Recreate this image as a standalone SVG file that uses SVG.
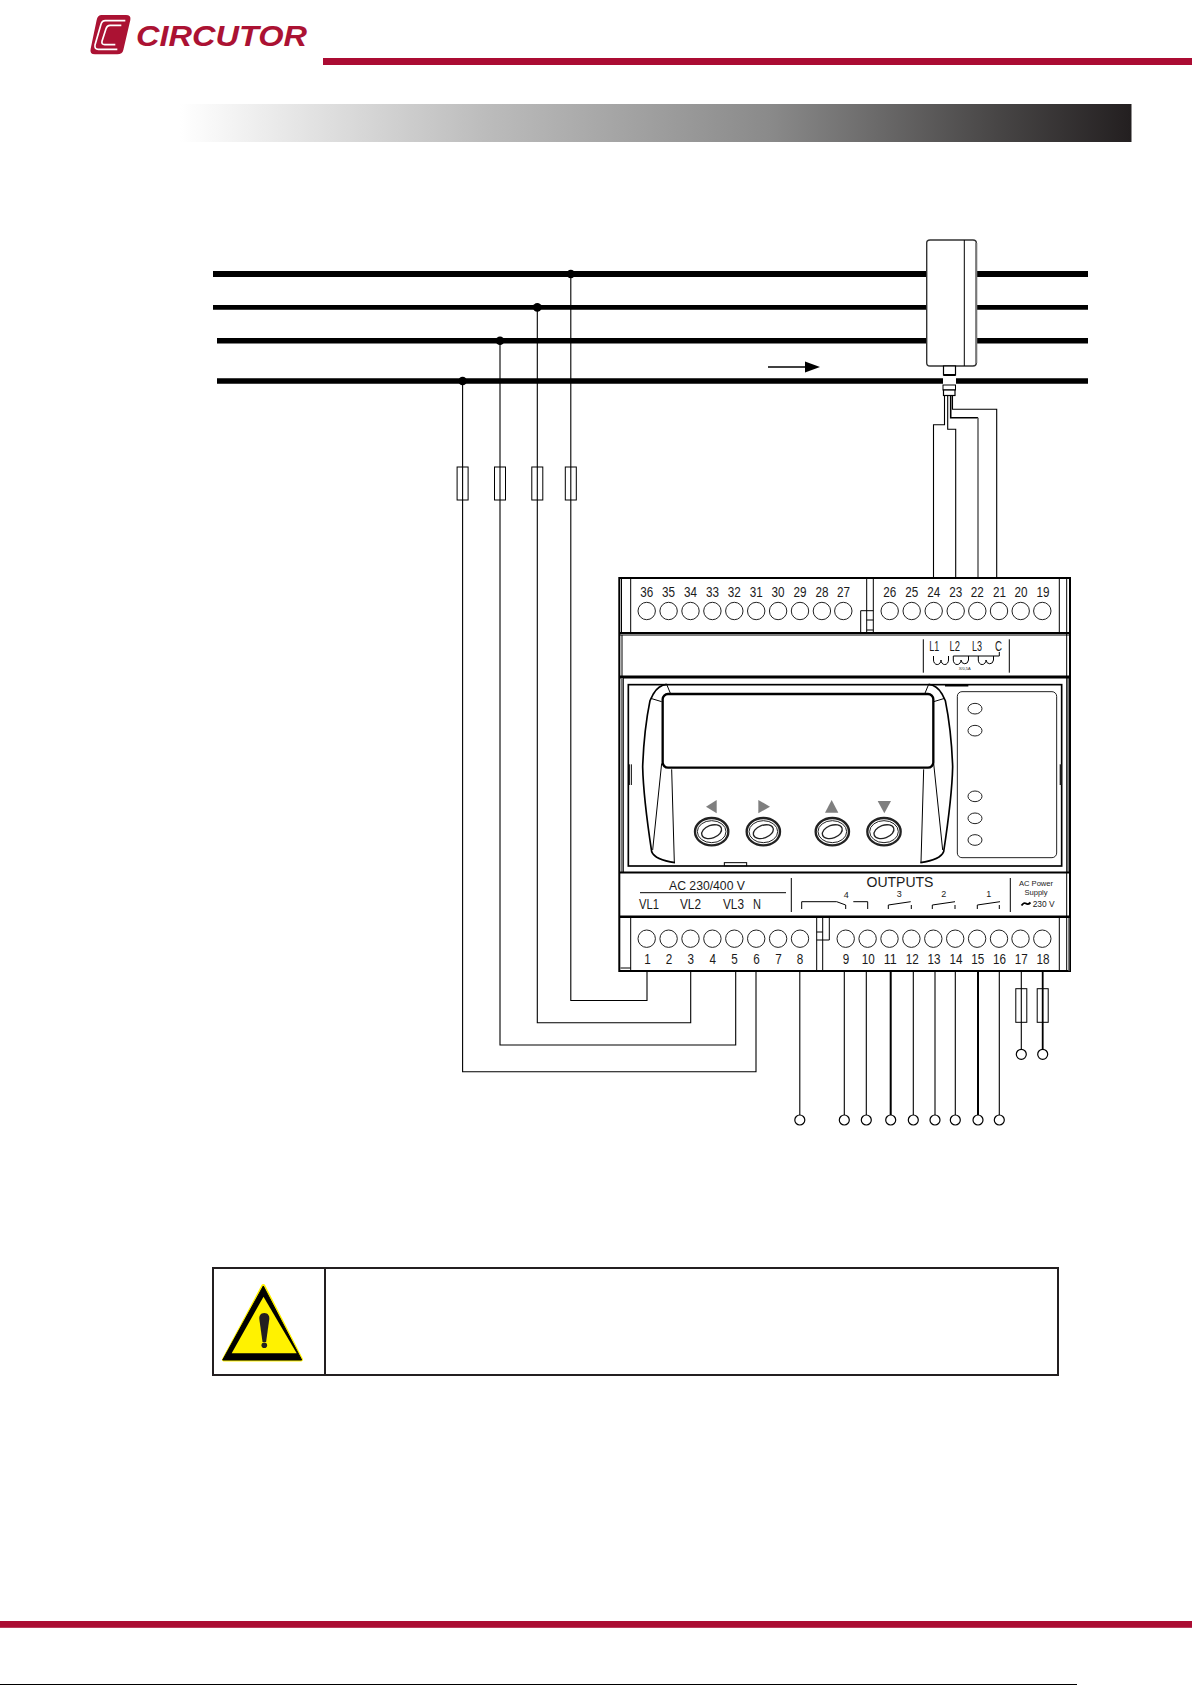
<svg xmlns="http://www.w3.org/2000/svg" width="1192" height="1685" viewBox="0 0 1192 1685">
<style>
text{font-family:"Liberation Sans",Arial,sans-serif;fill:#1a1a1a}
.t{font-size:15px;text-anchor:middle}
.l{fill:none;stroke:#000;stroke-width:1}
.l2{fill:none;stroke:#000;stroke-width:2}
.w{fill:none;stroke:#000;stroke-width:1.1}
.c{fill:#fff;stroke:#222;stroke-width:1}
.bus{stroke:#000;fill:none}
.end{fill:#fff;stroke:#000;stroke-width:1.2}
.fuse{fill:none;stroke:#000;stroke-width:1}
.gr{fill:#7f7f7f}
.s{fill:none;stroke:#000;stroke-width:3}
</style>
<defs>
<linearGradient id="g" x1="0" x2="1" y1="0" y2="0">
<stop offset="0" stop-color="#fff"/>
<stop offset=".32" stop-color="#bcbcbc"/>
<stop offset=".62" stop-color="#8a8a8a"/>
<stop offset=".85" stop-color="#4a4848"/>
<stop offset="1" stop-color="#231f20"/>
</linearGradient>
<g id="btn">
<ellipse cx="0" cy="0" rx="50" ry="41" fill="#fff" stroke="#222" stroke-width="7"/>
<ellipse cx="0" cy="0" rx="43" ry="33" fill="#fff" stroke="#222" stroke-width="3"/>
<ellipse cx="0" cy="0" rx="31" ry="19" fill="#fff" stroke="#222" stroke-width="4" transform="rotate(-20)"/>
</g>
</defs>

<g id="header">
<rect x="323" y="58" width="869" height="7" fill="#ab0c33"/>
<rect x="180" y="104" width="951.5" height="38" fill="url(#g)"/>
</g>
<g id="logo">
<g transform="translate(60 0) scale(.3333)">
<path d="M125 45H198Q214 45 211 60L190 150Q187 163 172 163H105Q88 163 92 146L110 60Q113 45 125 45Z" fill="#ab1233"/>
<path d="M196 62H136Q126 62 123 73L105 135Q103 148 115 148H172" fill="none" stroke="#fff" stroke-width="5"/>
<path d="M184 76H150Q141 76 138 86L126 124Q124 134 134 134H166" fill="none" stroke="#fff" stroke-width="5"/>
</g>
<text x="136" y="45.7" font-size="30" font-weight="700" font-style="italic" textLength="171" lengthAdjust="spacingAndGlyphs" style="fill:#ab1233">CIRCUTOR</text>
</g>

<g id="connectors">
<path class="bus" stroke-width="6" d="M213 274H927M976 274H1088"/>
<path class="bus" stroke-width="4.7" d="M213 307.4H927M976 307.4H1088"/>
<path class="bus" stroke-width="5.5" d="M217 340.7H927M976 340.7H1088"/>
<path class="bus" stroke-width="5.5" d="M217 381H943M956 381H1088"/>
<g fill="#000"><circle cx="570.8" cy="274" r="4.3"/><circle cx="537.3" cy="307.4" r="4.3"/><circle cx="500" cy="340.7" r="4.3"/><circle cx="462.6" cy="381" r="4.3"/></g>
<path class="w" d="M570.8 274V1000.5H647V971"/>
<path class="w" d="M537.3 307.4V1022.7H690.7V971" stroke-width="1.4"/>
<path class="w" d="M500 340.7V1045H735.7V971"/>
<path class="w" d="M462.6 381V1071.8H756V971"/>
<path class="w" d="M944.5 395V424.7H933.5V578"/>
<path class="w" d="M947.7 395V429.3H955.7V578"/>
<path d="M950.7 395V417.7H978" fill="none" stroke="#000" stroke-width="1.6"/>
<path d="M978 417.7V578" fill="none" stroke="#666" stroke-width="1.6"/>
<path class="w" d="M952.5 395V409.3H996.7V578"/>
<path class="w" d="M799.8 971V1115M844.3 971V1115M866.3 971V1115M913.3 971V1115M935 971V1115M955.3 971V1115M999.3 971V1115"/>
<path d="M890.7 971V1115M978 971V1115" fill="none" stroke="#000" stroke-width="2"/>
<path class="w" d="M1021.3 971V1049"/>
<path d="M1042.7 971V1049" fill="none" stroke="#000" stroke-width="1.8"/>
<g class="end"><circle cx="799.8" cy="1120" r="5"/><circle cx="844.3" cy="1120" r="5"/><circle cx="866.3" cy="1120" r="5"/><circle cx="890.7" cy="1120" r="5"/><circle cx="913.3" cy="1120" r="5"/><circle cx="935" cy="1120" r="5"/><circle cx="955.3" cy="1120" r="5"/><circle cx="978" cy="1120" r="5"/><circle cx="999.3" cy="1120" r="5"/><circle cx="1021.3" cy="1054.3" r="5"/><circle cx="1042.7" cy="1054.3" r="5"/></g>
<g class="fuse"><rect x="457.1" y="467" width="11" height="33"/><rect x="494.5" y="467" width="11" height="33"/><rect x="531.8" y="467" width="11" height="33"/><rect x="565.3" y="467" width="11" height="33"/><rect x="1015.8" y="988.7" width="11" height="33.6"/><rect x="1037.2" y="988.7" width="11" height="33.6"/></g>
<path d="M768 367H808" stroke="#000" stroke-width="1.4"/>
<path d="M820 367L805 361.5V372.5Z" fill="#000"/>
</g>

<g id="sensor">
<path d="M930 240H973Q976.3 240 976.3 243V363Q976.3 366 973 366H930Q926.7 366 926.7 363V243Q926.7 240 930 240Z" fill="#fff" stroke="#333" stroke-width="1.4"/>
<path class="l" d="M964.3 240V366"/>
<path d="M976.3 243V363" stroke="#777" stroke-width="2" fill="none"/>
<rect x="943.5" y="366" width="12" height="9" fill="#fff" stroke="#000" stroke-width="1.2"/>
<path d="M943.5 375H955.5" stroke="#000" stroke-width="2"/>
<rect x="943" y="385" width="12.5" height="5" fill="#fff" stroke="#000" stroke-width="1"/>
<rect x="943.5" y="390" width="11.5" height="5.5" fill="#fff" stroke="#000" stroke-width="1.2"/>
</g>

<g id="meter">
<rect x="619.3" y="578" width="450.7" height="393" fill="#fff" stroke="#000" stroke-width="2"/>
<path class="l" d="M621.5 578V633M630.7 578V633M1059.3 578V633M1066.7 578V971M866.7 578V632M873.3 578V632M860.7 632V610.7H873.3M866.7 620H873.3M866.7 630H873.3"/>
<path class="l2" d="M619.3 633H1070"/>
<path d="M619.3 635H1070" class="l"/>
<path d="M619.3 677H1070" stroke="#000" stroke-width="3" fill="none"/>
<path class="l" d="M622 635V677M623.3 678V872M1068 678V872"/>
<path d="M622 678V872" stroke="#777" stroke-width="2" fill="none"/>
<path d="M1069 916V971" stroke="#555" stroke-width="1.5" fill="none"/>
<path d="M619.3 872.5H1070" stroke="#000" stroke-width="2" fill="none"/>
<path d="M619.3 916.7H1070" stroke="#000" stroke-width="2.4" fill="none"/>
<path class="l" d="M630.7 917V971M816.7 917V971M822.7 917V971M829.3 918V940H816.7M816.7 932H822.7M1059.3 917V971M620.5 968H630.7"/>

<g id="terminals-top">
<g class="c"><circle cx="646.7" cy="611" r="8.7"/><circle cx="668.6" cy="611" r="8.7"/><circle cx="690.5" cy="611" r="8.7"/><circle cx="712.4" cy="611" r="8.7"/><circle cx="734.3" cy="611" r="8.7"/><circle cx="756.2" cy="611" r="8.7"/><circle cx="778.1" cy="611" r="8.7"/><circle cx="800" cy="611" r="8.7"/><circle cx="821.9" cy="611" r="8.7"/><circle cx="843.3" cy="611" r="8.7"/><circle cx="889.7" cy="611" r="8.7"/><circle cx="911.7" cy="611" r="8.7"/><circle cx="933.7" cy="611" r="8.7"/><circle cx="955.7" cy="611" r="8.7"/><circle cx="977.3" cy="611" r="8.7"/><circle cx="999" cy="611" r="8.7"/><circle cx="1020.7" cy="611" r="8.7"/><circle cx="1042.3" cy="611" r="8.7"/></g>
<text class="t" x="646.7" y="597.3" textLength="13" lengthAdjust="spacingAndGlyphs">36</text><text class="t" x="668.6" y="597.3" textLength="13" lengthAdjust="spacingAndGlyphs">35</text><text class="t" x="690.5" y="597.3" textLength="13" lengthAdjust="spacingAndGlyphs">34</text><text class="t" x="712.4" y="597.3" textLength="13" lengthAdjust="spacingAndGlyphs">33</text><text class="t" x="734.3" y="597.3" textLength="13" lengthAdjust="spacingAndGlyphs">32</text><text class="t" x="756.2" y="597.3" textLength="13" lengthAdjust="spacingAndGlyphs">31</text><text class="t" x="778.1" y="597.3" textLength="13" lengthAdjust="spacingAndGlyphs">30</text><text class="t" x="800" y="597.3" textLength="13" lengthAdjust="spacingAndGlyphs">29</text><text class="t" x="821.9" y="597.3" textLength="13" lengthAdjust="spacingAndGlyphs">28</text><text class="t" x="843.6" y="597.3" textLength="13" lengthAdjust="spacingAndGlyphs">27</text><text class="t" x="889.7" y="597.3" textLength="13" lengthAdjust="spacingAndGlyphs">26</text><text class="t" x="911.7" y="597.3" textLength="13" lengthAdjust="spacingAndGlyphs">25</text><text class="t" x="933.7" y="597.3" textLength="13" lengthAdjust="spacingAndGlyphs">24</text><text class="t" x="955.7" y="597.3" textLength="13" lengthAdjust="spacingAndGlyphs">23</text><text class="t" x="977.3" y="597.3" textLength="13" lengthAdjust="spacingAndGlyphs">22</text><text class="t" x="999.5" y="597.3" textLength="13" lengthAdjust="spacingAndGlyphs">21</text><text class="t" x="1021" y="597.3" textLength="13" lengthAdjust="spacingAndGlyphs">20</text><text class="t" x="1043" y="597.3" textLength="13" lengthAdjust="spacingAndGlyphs">19</text>
</g>

<g id="terminals-bottom">
<g class="c"><circle cx="646.7" cy="938.7" r="8.7"/><circle cx="668.6" cy="938.7" r="8.7"/><circle cx="690.5" cy="938.7" r="8.7"/><circle cx="712.4" cy="938.7" r="8.7"/><circle cx="734.3" cy="938.7" r="8.7"/><circle cx="756.2" cy="938.7" r="8.7"/><circle cx="778.1" cy="938.7" r="8.7"/><circle cx="800" cy="938.7" r="8.7"/><circle cx="845.7" cy="938.7" r="8.7"/><circle cx="867.6" cy="938.7" r="8.7"/><circle cx="889.5" cy="938.7" r="8.7"/><circle cx="911.4" cy="938.7" r="8.7"/><circle cx="933.3" cy="938.7" r="8.7"/><circle cx="955.2" cy="938.7" r="8.7"/><circle cx="977.1" cy="938.7" r="8.7"/><circle cx="999" cy="938.7" r="8.7"/><circle cx="1020.5" cy="938.7" r="8.7"/><circle cx="1042.3" cy="938.7" r="8.7"/></g>
<text class="t" x="647.5" y="964" textLength="6.5" lengthAdjust="spacingAndGlyphs">1</text><text class="t" x="669" y="964" textLength="6.5" lengthAdjust="spacingAndGlyphs">2</text><text class="t" x="690.8" y="964" textLength="6.5" lengthAdjust="spacingAndGlyphs">3</text><text class="t" x="712.7" y="964" textLength="6.5" lengthAdjust="spacingAndGlyphs">4</text><text class="t" x="734.6" y="964" textLength="6.5" lengthAdjust="spacingAndGlyphs">5</text><text class="t" x="756.5" y="964" textLength="6.5" lengthAdjust="spacingAndGlyphs">6</text><text class="t" x="778.4" y="964" textLength="6.5" lengthAdjust="spacingAndGlyphs">7</text><text class="t" x="800" y="964" textLength="6.5" lengthAdjust="spacingAndGlyphs">8</text><text class="t" x="846" y="964" textLength="6.5" lengthAdjust="spacingAndGlyphs">9</text><text class="t" x="868.2" y="964" textLength="13" lengthAdjust="spacingAndGlyphs">10</text><text class="t" x="890.3" y="964" textLength="13" lengthAdjust="spacingAndGlyphs">11</text><text class="t" x="912.2" y="964" textLength="13" lengthAdjust="spacingAndGlyphs">12</text><text class="t" x="934" y="964" textLength="13" lengthAdjust="spacingAndGlyphs">13</text><text class="t" x="956" y="964" textLength="13" lengthAdjust="spacingAndGlyphs">14</text><text class="t" x="977.8" y="964" textLength="13" lengthAdjust="spacingAndGlyphs">15</text><text class="t" x="999.6" y="964" textLength="13" lengthAdjust="spacingAndGlyphs">16</text><text class="t" x="1021.3" y="964" textLength="13" lengthAdjust="spacingAndGlyphs">17</text><text class="t" x="1043" y="964" textLength="13" lengthAdjust="spacingAndGlyphs">18</text>
</g>

<g id="current-inputs">
<path class="l" d="M923.3 639.3V672.7M1009.3 639.3V672.7"/>
<text x="929.3" y="651" font-size="14" textLength="10" lengthAdjust="spacingAndGlyphs">L1</text>
<text x="949.5" y="651" font-size="14" textLength="10.5" lengthAdjust="spacingAndGlyphs">L2</text>
<text x="972" y="651" font-size="14" textLength="10" lengthAdjust="spacingAndGlyphs">L3</text>
<text x="995" y="651" font-size="14" textLength="7" lengthAdjust="spacingAndGlyphs">C</text>
<path class="l" d="M953.3 656H999.3V652M933.5 656V660A3.7 4.5 0 0 0 941 660A3.7 4.5 0 0 0 948.5 660V656M953.3 656V660A3.8 4.5 0 0 0 961 660A3.8 4.5 0 0 0 968.5 660V656M978.3 656V660A3.8 4.5 0 0 0 986 660A3.8 4.5 0 0 0 993.5 660V656"/>
<text x="964.7" y="670" font-size="4" text-anchor="middle">X/0,5A</text>
</g>

<g id="front-panel" transform="translate(620 680) scale(.33333)">
<rect x="25" y="14" width="1300" height="544" fill="#fff" stroke="#000" stroke-width="5"/>
<path d="M140 13Q115 15 100 42L90 62Q72 150 68 260Q70 350 95 515Q105 540 165 548" fill="none" stroke="#000" stroke-width="5"/>
<path d="M926 13Q951 15 966 42L976 62Q994 150 998 260Q996 350 971 515Q961 540 901 548" fill="none" stroke="#000" stroke-width="5"/>
<path class="s" d="M125 65L92 55M140 13L152 42M941 65L974 55M926 13L914 42M155 268L163 548M125 250L98 510M911 268L903 548M941 250L968 510"/>
<rect x="128" y="42" width="812" height="221" rx="16" fill="#fff" stroke="#000" stroke-width="7"/>
<path d="M975 16H1045" stroke="#000" stroke-width="7"/>
<path class="s" d="M28 253V315M34 253V315"/>
<path d="M1322 253V315" stroke="#222" stroke-width="6"/>
<rect x="313" y="548" width="67" height="9" fill="#fff" stroke="#000" stroke-width="3"/>
<rect x="1012" y="35" width="298" height="498" rx="14" fill="#fff" stroke="#222" stroke-width="3"/>
<g fill="#fff" stroke="#222" stroke-width="3"><ellipse cx="1065" cy="86" rx="21" ry="16"/><ellipse cx="1065" cy="152" rx="21" ry="16"/><ellipse cx="1065" cy="349" rx="21" ry="16"/><ellipse cx="1065" cy="415" rx="21" ry="16"/><ellipse cx="1065" cy="480" rx="21" ry="16"/></g>
<path class="gr" d="M258 380L290 360V400Z"/>
<path class="gr" d="M415 360V400L450 380Z"/>
<path class="gr" d="M635 360L615 398H655Z"/>
<path class="gr" d="M773 363H813L793 400Z"/>
<use href="#btn" x="275" y="455"/><use href="#btn" x="430" y="455"/><use href="#btn" x="637" y="455"/><use href="#btn" x="792" y="455"/>
</g>

<g id="labels">
<text x="707" y="890" font-size="12.2" text-anchor="middle">AC 230/400 V</text>
<path class="l" d="M640 892.7H786M791.3 878V912M1010.3 878V912"/>
<text x="639" y="908.5" font-size="15" textLength="20" lengthAdjust="spacingAndGlyphs">VL1</text>
<text x="680" y="908.5" font-size="15" textLength="21" lengthAdjust="spacingAndGlyphs">VL2</text>
<text x="723" y="908.5" font-size="15" textLength="21" lengthAdjust="spacingAndGlyphs">VL3</text>
<text x="753" y="908.5" font-size="15" textLength="8" lengthAdjust="spacingAndGlyphs">N</text>
<text x="900" y="886.7" font-size="14" text-anchor="middle">OUTPUTS</text>
<text x="846.3" y="897.7" font-size="9" text-anchor="middle">4</text>
<text x="899.3" y="896.7" font-size="9" text-anchor="middle">3</text>
<text x="943.7" y="896.7" font-size="9" text-anchor="middle">2</text>
<text x="988.7" y="896.7" font-size="9" text-anchor="middle">1</text>
<path class="l" d="M801.7 909V901.7H836.7L845.7 905V909M853.3 901.7H867.7V909M888.3 909V905L910.7 901.7M911.3 905V909M932.3 909V905L955 901.7M955 905V909M977.3 909V905L1000 901.7M999.3 905V909"/>
<text x="1036" y="886" font-size="7.6" text-anchor="middle">AC Power</text>
<text x="1036" y="895" font-size="7.6" text-anchor="middle">Supply</text>
<text x="1032.7" y="906.7" font-size="8.4">230 V</text>
<path d="M1021.5 905.5Q1024 902 1026 903.5T1030.5 902.5" fill="none" stroke="#000" stroke-width="1.8"/>
</g>
</g>

<g id="warning">
<rect x="213" y="1268" width="845" height="107" fill="#fff" stroke="#231f20" stroke-width="2"/>
<path d="M325 1268V1375" stroke="#231f20" stroke-width="2"/>
<path d="M263.3 1286L224 1359.5H301Z" fill="#fff200" stroke="#fff200" stroke-width="4" stroke-linejoin="round"/>
<path d="M263.3 1286L222.7 1360H301.7Z" fill="#000" stroke="#000" stroke-width="1" stroke-linejoin="round"/>
<path d="M263.5 1296.7L231.7 1353.3H296.7Z" fill="#fff200"/>
<path d="M264.3 1313C260.5 1313 259 1316 259.3 1319L262.5 1342H266.1L269.3 1319C269.6 1316 268.1 1313 264.3 1313Z" fill="#231f20"/>
<circle cx="264.3" cy="1345.3" r="2.8" fill="#231f20"/>
</g>

<g id="footer">
<rect x="0" y="1621" width="1192" height="6.8" fill="#ab0c33"/>
<rect x="0" y="1684" width="1077" height="1" fill="#000"/>
</g>
</svg>
